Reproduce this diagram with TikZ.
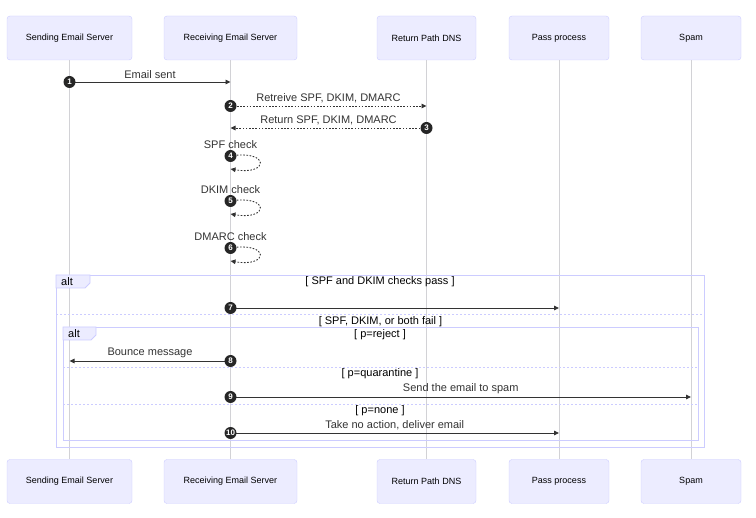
\documentclass[tikz,border=0pt]{standalone}
\usepackage{fontspec}
\setmainfont{Liberation Sans}
\usetikzlibrary{shapes,arrows.meta,positioning}
\definecolor{actfill}{HTML}{ECECFF}
\definecolor{actline}{HTML}{CCCCFF}
\definecolor{lifeln}{HTML}{D2D2D6}
\definecolor{txt}{HTML}{333333}

\tikzset{
  actor/.style={draw=actline, fill=actfill, rounded corners=3pt, minimum height=44pt,
    text=black, font=\fontsize{9}{11}\selectfont},
  life/.style={draw=lifeln, line width=0.6pt},
  msg/.style={draw=txt, line width=0.9pt, -{Triangle[length=5pt,width=4.5pt]}},
  dmsg/.style={msg, dash pattern=on 1.6pt off 1.6pt},
  num/.style={circle, fill=black!85, text=white, inner sep=0pt, minimum size=12pt,
    font=\fontsize{8}{8}\selectfont\bfseries},
  lbl/.style={text=txt, font=\fontsize{11}{13}\selectfont, inner sep=1pt},
  guard/.style={text=black, font=\fontsize{11}{13}\selectfont, inner sep=0pt},
  altbox/.style={draw=actline, line width=0.8pt},
  altsep/.style={draw=actline, line width=0.8pt, dash pattern=on 2pt off 2pt},
  alttab/.style={fill=actfill, draw=actline, line width=0.8pt}
}

\begin{document}
\begin{tikzpicture}[x=1pt,y=-1pt]
            \useasboundingbox (0,0) rectangle (756,518);
            % participants, top row
            \node[actor, minimum width=125pt] (sendT) at (69.5,38) {Sending Email Server};
            \node[actor, minimum width=133pt] (recvT) at (230.5,38) {Receiving Email Server};
            \node[actor, minimum width=99pt] (dnsT) at (426.5,38) {Return Path DNS};
            \node[actor, minimum width=100pt] (passT) at (559,38) {Pass process};
            \node[actor, minimum width=100pt] (spamT) at (691,38) {Spam};
            % participants, bottom row
            \node[actor, minimum width=125pt] (sendB) at (69.5,481.5) {Sending Email Server};
            \node[actor, minimum width=133pt] (recvB) at (230.5,481.5) {Receiving Email Server};
            \node[actor, minimum width=99pt] (dnsB) at (426.5,481.5) {Return Path DNS};
            \node[actor, minimum width=100pt] (passB) at (559,481.5) {Pass process};
            \node[actor, minimum width=100pt] (spamB) at (691,481.5) {Spam};
            \foreach \a in {send,recv,dns,pass,spam}
            \draw[life] (\a T) -- (\a B); % lifelines
            % message rows
            \foreach \n/\y in {1/82,2/106,3/128,4/156,5/201,6/248,7/308,8/361,9/397,10/433}
            \coordinate (r\n) at (0,\y);
            \foreach \n/\y in {4/169,5/214,6/261}
            \coordinate (e\n) at (0,\y);
            % alt frames
            \draw[altbox] (56,275) rectangle (704,447);
            \draw[alttab] (56,275) -- (90,275) -- (90,283) -- (85,288) -- (56,288) -- cycle;
            \node[guard, anchor=west] (alt1) at (61,281.5) {alt};
            \node[guard] (g1) at (380,281.5) {[ SPF and DKIM checks pass ]};
            \draw[altsep] (56,314) -- (704,314);
            \node[guard] (g2) at (380.5,321.5) {[ SPF, DKIM, or both fail ]};
            \draw[altbox] (63,327) rectangle (698,440);
            \draw[alttab] (63,327) -- (96,327) -- (96,335) -- (91,340) -- (63,340) -- cycle;
            \node[guard, anchor=west] (alt2) at (68,333.5) {alt};
            \node[guard] (g3) at (380,334.5) {[ p=reject ]};
            \draw[altsep] (63,367) -- (698,367);
            \node[guard] (g4) at (380,374) {[ p=quarantine ]};
            \draw[altsep] (63,404) -- (698,404);
            \node[guard] (g5) at (380,411) {[ p=none ]};
            % messages
            \draw[msg] (sendT |- r1) -- (recvT |- r1) node[lbl, midway, above=2pt] {Email sent};
            \draw[dmsg] (recvT |- r2) -- (dnsT |- r2) node[lbl, midway, above=2pt] {Retreive SPF, DKIM, DMARC};
            \draw[dmsg] (dnsT |- r3) -- (recvT |- r3) node[lbl, midway, above=2pt] {Return SPF, DKIM, DMARC};
            \foreach \n in {4,5,6}
            \draw[dmsg] (recvT |- r\n) .. controls +(39,-6.5) and +(39,6.5) .. (recvT |- e\n);
            \draw[msg] (recvT |- r7) -- (passT |- r7);
            \draw[msg] (recvT |- r8) -- (sendT |- r8) node[lbl, midway, above=2pt] {Bounce message};
            \draw[msg] (recvT |- r9) -- (spamT |- r9) node[lbl, midway, above=2pt] {Send the email to spam};
            \draw[msg] (recvT |- r10) -- (passT |- r10) node[lbl, midway, above=2pt] {Take no action, deliver email};
            % sequence numbers
            \node[num] (c1) at (sendT |- r1) {1};
            \node[num] (c2) at (recvT |- r2) {2};
            \node[num] (c3) at (dnsT |- r3) {3};
            \foreach \n in {4,...,10}
            \node[num] (c\n) at (recvT |- r\n) {\n};
            \node[lbl, above=0pt of c4] (l4) {SPF check};
            \node[lbl, above=0pt of c5] (l5) {DKIM check};
            \node[lbl, above=0pt of c6] (l6) {DMARC check};
\end{tikzpicture}
\end{document}
